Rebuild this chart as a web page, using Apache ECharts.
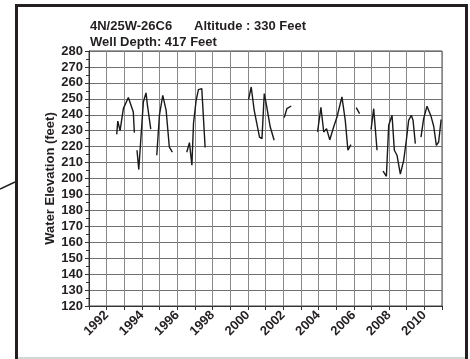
<!DOCTYPE html>
<html>
<head>
<meta charset="utf-8">
<script src="https://cdn.jsdelivr.net/npm/echarts@6/dist/echarts.min.js"></script>
<style>
  html, body { margin: 0; padding: 0; background: #fff; }
  #chart { width: 470px; height: 359px; }
</style>
</head>
<body>
<div id="chart"></div>
<script>
// Well 4N/25W-26C6 water elevation record (decimal year, feet); null marks a gap in the record
const dates = [
  1992.57, 1992.63, 1992.76, 1992.82, 1992.95, 1993.23, 1993.33, 1993.51, 1993.57, 1993.65,
  1993.72, 1993.82, 1993.99, 1994.08, 1994.23, 1994.31, 1994.36, 1994.50, 1994.67,
  1994.84, 1994.99, 1995.18, 1995.25, 1995.37, 1995.55, 1995.72, 1996.1,
  1996.54, 1996.69, 1996.83, 1996.92, 1997.07, 1997.20, 1997.39, 1997.58, 1998.8,
  2000.04, 2000.19, 2000.36, 2000.51, 2000.66, 2000.80, 2000.93, 2001.04, 2001.27, 2001.49, 2001.8,
  2002.06, 2002.21, 2002.46, 2003.2,
  2003.95, 2004.14, 2004.30, 2004.46, 2004.64, 2004.86, 2005.05, 2005.33, 2005.52, 2005.67, 2005.84, 2006.0,
  2006.14, 2006.33, 2006.6,
  2006.98, 2007.13, 2007.32, 2007.5,
  2007.66, 2007.85, 2007.98, 2008.17, 2008.30, 2008.45, 2008.64, 2008.83, 2008.98, 2009.11, 2009.26, 2009.36, 2009.49, 2009.65,
  2009.81, 2009.96, 2010.15, 2010.38, 2010.53, 2010.68, 2010.81, 2010.95
];
const levels = [
  227.7, 236.0, 230.0, 228.8, 244.0, 250.8, 250.0, 241.7, 228.8, null,
  217.7, 205.6, 233.4, 248.0, 253.7, 246.0, 245.3, 231.0, null,
  214.6, 239.7, 252.2, 252.8, 242.8, 219.8, 216.6, null,
  216.5, 222.5, 208.3, 234.4, 249.0, 255.8, 256.4, 219.4, null,
  249.5, 257.4, 242.8, 234.4, 226.0, 225.0, 253.3, 247.0, 232.3, 224.0, null,
  238.2, 243.8, 245.5, null,
  229.2, 244.7, 229.2, 231.3, 224.2, 232.3, 238.6, 251.2, 236.5, 217.7, 221.3, null,
  244.5, 240.7, null,
  230.7, 243.8, 217.7, null,
  204.7, 201.4, 233.4, 239.7, 217.7, 214.6, 202.7, 211.4, 224.0, 236.5, 239.7, 236.5, 221.9, null,
  226.0, 237.6, 245.3, 239.0, 232.8, 220.8, 222.9, 237.0
];
const yearTicks = [1992, 1994, 1996, 1998, 2000, 2002, 2004, 2006, 2008, 2010];
const titleLine1 = ['4N/25W-26C6', 'Altitude : 330 Feet'];
const titleLine2 = 'Well Depth: 417 Feet';
const yAxisTitle = 'Water Elevation (feet)';

const seriesData = dates.map((d, i) => [d, levels[i] === null ? '-' : levels[i]]);
const FONT = 'Liberation Sans, Arial, sans-serif';
const INK = '#231f20';

const chart = echarts.init(document.getElementById('chart'), null, { renderer: 'canvas' });
chart.setOption({
  animation: false,
  backgroundColor: '#fff',
  title: [
    { text: titleLine1[0], left: 90, top: 20, padding: 0,
      textStyle: { fontFamily: FONT, fontSize: 13, fontWeight: 'bold', color: INK } },
    { text: titleLine1[1], left: 194, top: 20, padding: 0,
      textStyle: { fontFamily: FONT, fontSize: 13, fontWeight: 'bold', color: INK } },
    { text: titleLine2, left: 90, top: 35.5, padding: 0,
      textStyle: { fontFamily: FONT, fontSize: 13, fontWeight: 'bold', color: INK } }
  ],
  grid: { left: 89, top: 51, right: 28, bottom: 53, show: true, borderColor: '#444', borderWidth: 1 },
  xAxis: {
    type: 'value', min: 1991, max: 2011, interval: 1,
    axisLine: { lineStyle: { color: '#333', width: 1 } },
    axisTick: { show: true, length: 4, lineStyle: { color: '#333' } },
    splitLine: { show: true, lineStyle: { color: '#888', width: 1 } },
    axisLabel: {
      rotate: 45, margin: 7,
      fontFamily: FONT, fontSize: 13, fontWeight: 'bold', color: INK,
      formatter: v => yearTicks.includes(v) ? String(v) : ''
    }
  },
  yAxis: {
    type: 'value', min: 120, max: 280, interval: 10,
    name: yAxisTitle, nameLocation: 'middle', nameGap: 32, nameRotate: 90,
    nameMoveOverlap: false,
    nameTextStyle: { fontFamily: FONT, fontSize: 13, fontWeight: 'bold', color: INK },
    axisLine: { show: true, lineStyle: { color: '#333', width: 1 } },
    axisTick: { show: true, length: 4, lineStyle: { color: '#333' } },
    minorTick: { show: true, splitNumber: 2, length: 3, lineStyle: { color: '#333' } },
    splitLine: { show: true, lineStyle: { color: '#6f6f6f', width: 1 } },
    axisLabel: { margin: 6, fontFamily: FONT, fontSize: 13, fontWeight: 'bold', color: INK }
  },
  series: [{
    type: 'line',
    data: seriesData,
    showSymbol: false,
    connectNulls: false,
    lineStyle: { color: '#1a1a1a', width: 1.4 }
  }],
  graphic: [
    { type: 'rect', silent: true, z: 100,
      shape: { x: 16.5, y: 5.5, width: 450, height: 362 },
      style: { fill: null, stroke: INK, lineWidth: 3 } },
    { type: 'line', silent: true, z: 100,
      shape: { x1: 18, y1: 358, x2: 465, y2: 358 },
      style: { stroke: '#c8c8c8', lineWidth: 1.5 } },
    { type: 'line', silent: true, z: 100,
      shape: { x1: 0, y1: 189, x2: 15, y2: 182 },
      style: { stroke: INK, lineWidth: 1.5 } }
  ]
});
</script>
</body>
</html>
